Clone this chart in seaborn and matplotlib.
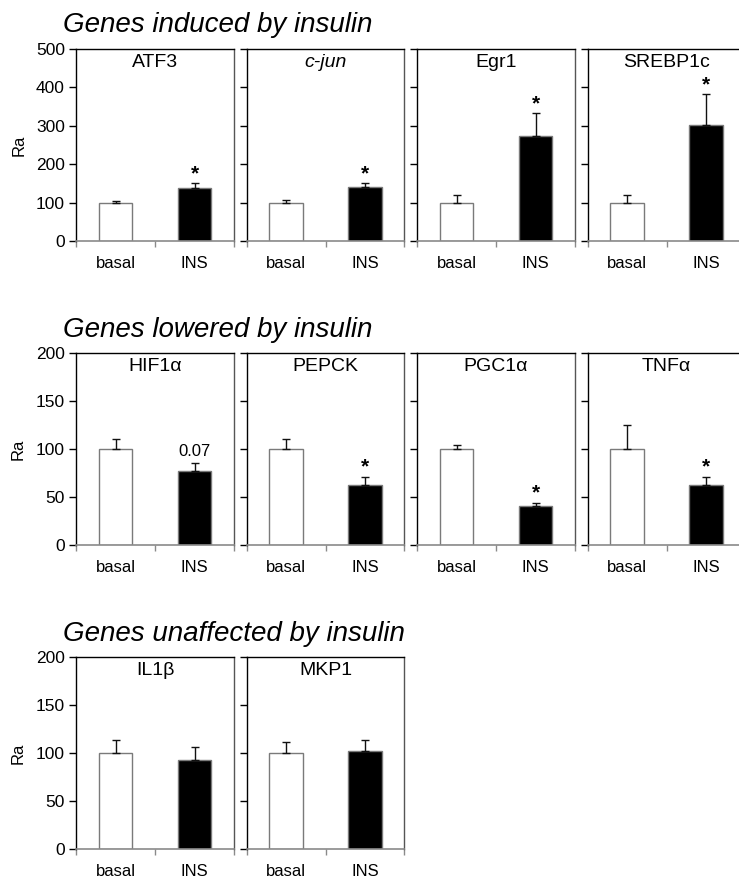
import numpy as np
import pandas as pd
import matplotlib
matplotlib.use("Agg")
import matplotlib.pyplot as plt
import seaborn as sns

sns.set_theme(style="white")
plt.rcParams["font.family"] = ["Liberation Sans", "DejaVu Sans"]
plt.rcParams["text.color"] = "black"
plt.rcParams["axes.labelcolor"] = "black"
plt.rcParams["xtick.color"] = "black"
plt.rcParams["ytick.color"] = "black"

conditions = ["basal", "INS"]

# Group 1: genes induced by insulin
induced_genes = ["ATF3", "c-jun", "Egr1", "SREBP1c"]
induced_basal = [100, 100, 100, 100]
induced_basal_err = [5, 8, 19, 19]
induced_ins = [137, 140, 273, 303]
induced_ins_err = [14, 11, 60, 80]
induced_marks = ["*", "*", "*", "*"]

# Group 2: genes lowered by insulin
lowered_genes = ["HIF1α", "PEPCK", "PGC1α", "TNFα"]
lowered_basal = [100, 100, 100, 100]
lowered_basal_err = [10, 10, 4, 25]
lowered_ins = [77, 63, 41, 63]
lowered_ins_err = [8.5, 8, 3, 8]
lowered_marks = ["0.07", "*", "*", "*"]

# Group 3: genes unaffected by insulin
unaff_genes = ["IL1β", "MKP1"]
unaff_basal = [100, 100]
unaff_basal_err = [14, 11]
unaff_ins = [93, 102]
unaff_ins_err = [13, 12]
unaff_marks = ["", ""]

group_titles = ["Genes induced by insulin", "Genes lowered by insulin",
                "Genes unaffected by insulin"]
group_ymax = [500, 200, 200]
group_yticks = [[0, 100, 200, 300, 400, 500], [0, 50, 100, 150, 200],
                [0, 50, 100, 150, 200]]

W, H = 739, 881
fig = plt.figure(figsize=(W / 100, H / 100), dpi=100)


def px_axes(left, top, width, height):
    return fig.add_axes([left / W, 1 - (top + height) / H, width / W, height / H])


groups = [
    (induced_genes, induced_basal, induced_basal_err, induced_ins, induced_ins_err, induced_marks),
    (lowered_genes, lowered_basal, lowered_basal_err, lowered_ins, lowered_ins_err, lowered_marks),
    (unaff_genes, unaff_basal, unaff_basal_err, unaff_ins, unaff_ins_err, unaff_marks),
]
row_tops = [49, 353, 657]
title_baselines = [32, 337, 641]
col_lefts = [76, 246.5, 417, 587.5]
panel_w, panel_h = 158, 192

for r, (genes, b, be, ins, ie, marks) in enumerate(groups):
    fig.text(63 / W, 1 - title_baselines[r] / H, group_titles[r], fontsize=20,
             style="italic", ha="left", va="baseline", color="black")
    for c, gene in enumerate(genes):
        ax = px_axes(col_lefts[c], row_tops[r], panel_w, panel_h)
        df = pd.DataFrame({"cond": conditions, "Ra": [b[c], ins[c]]})
        sns.barplot(data=df, x="cond", y="Ra", hue="cond", order=conditions,
                    palette=["white", "black"], legend=False, width=0.42,
                    edgecolor="#7a7a7a", linewidth=1.0, errorbar=None, ax=ax)
        ax.errorbar([0, 1], [b[c], ins[c]], yerr=[[0, 0], [be[c], ie[c]]],
                    fmt="none", ecolor="#111111", elinewidth=1.0, capsize=3,
                    capthick=1.0, zorder=3)
        if marks[c]:
            top = ins[c] + ie[c]
            if marks[c] == "*":
                ax.annotate("*", (1, top), xytext=(0, 0), textcoords="offset points",
                            ha="center", va="bottom", fontsize=15, fontweight="bold")
            else:
                ax.annotate(marks[c], (1, top), xytext=(0, 3), textcoords="offset points",
                            ha="center", va="bottom", fontsize=12)
        ax.set_xlim(-0.5, 1.5)
        ax.set_ylim(0, group_ymax[r])
        ax.set_yticks(group_yticks[r])
        ax.set_xticks([0, 1])
        ax.set_xticks([-0.5, 0.5, 1.5], minor=True)
        ax.set_xticklabels(conditions)
        ax.set_xlabel("")
        ax.tick_params(axis="x", which="major", length=0, pad=11, labelsize=12)
        ax.tick_params(axis="x", which="minor", length=4, width=1, color="#8a8a8a",
                       direction="out", bottom=True)
        ax.tick_params(axis="y", length=5, width=1, color="black", direction="out",
                       left=True, labelsize=12.5, pad=3)
        for side in ["left", "top"]:
            ax.spines[side].set_color("black")
            ax.spines[side].set_linewidth(1.0)
        ax.spines["right"].set_color("#555555")
        ax.spines["right"].set_linewidth(1.0)
        ax.spines["bottom"].set_color("#8a8a8a")
        ax.spines["bottom"].set_linewidth(1.2)
        for s in ax.spines.values():
            s.set_visible(True)
        style = "italic" if gene == "c-jun" else "normal"
        ax.text(0.5, 0.975, gene, transform=ax.transAxes, ha="center", va="top",
                fontsize=14, style=style)
        if c == 0:
            ax.set_ylabel("Ra", fontsize=12, labelpad=7)
        else:
            ax.set_ylabel("")
            ax.set_yticklabels([])

fig.savefig("out.png", dpi=100)
